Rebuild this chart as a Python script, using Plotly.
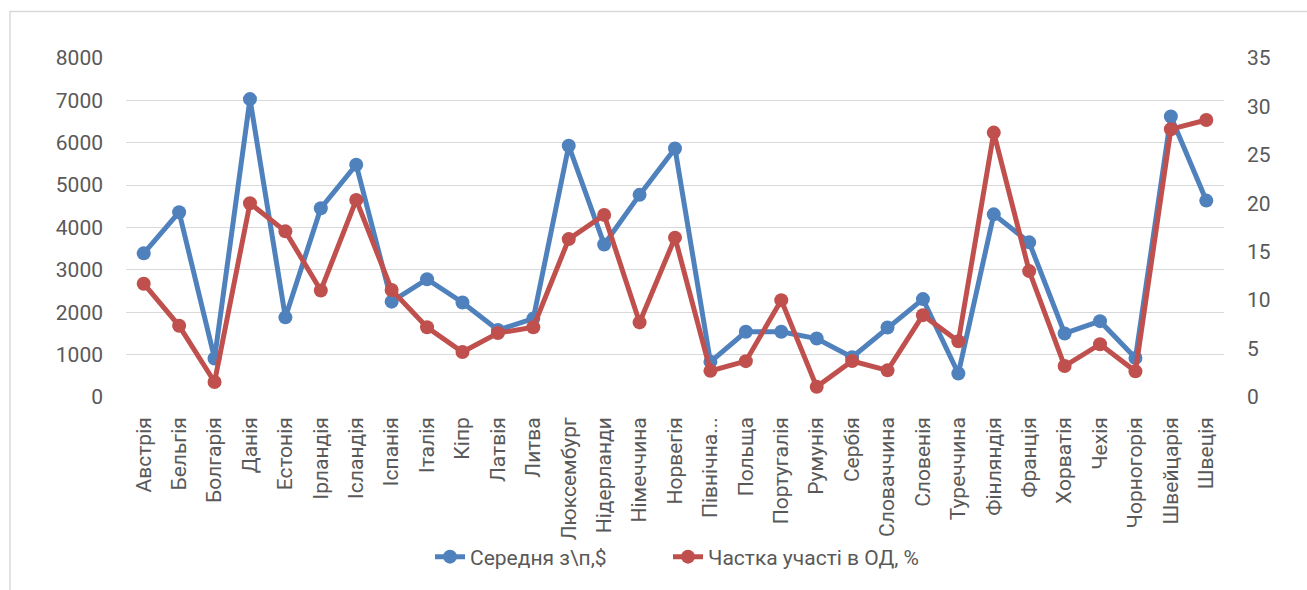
import plotly.graph_objects as go

countries = ["Австрія", "Бельгія", "Болгарія", "Данія", "Естонія", "Ірландія", "Ісландія",
             "Іспанія", "Італія", "Кіпр", "Латвія", "Литва", "Люксембург", "Нідерланди",
             "Німеччина", "Норвегія", "Північна...", "Польща", "Португалія", "Румунія",
             "Сербія", "Словаччина", "Словенія", "Туреччина", "Фінляндія", "Франція",
             "Хорватія", "Чехія", "Чорногорія", "Швейцарія", "Швеція"]
salary = [3390, 4360, 910, 7030, 1880, 4455, 5480, 2250, 2780, 2230, 1580, 1850, 5930, 3600,
          4770, 5865, 830, 1540, 1540, 1380, 940, 1640, 2310, 555, 4310, 3650, 1500, 1790,
          920, 6620, 4635]
share = [11.7, 7.35, 1.55, 20.0, 17.1, 11.0, 20.35, 11.05, 7.2, 4.65, 6.6, 7.2, 16.3, 18.8,
         7.7, 16.45, 2.7, 3.7, 10.0, 1.05, 3.72, 2.75, 8.45, 5.75, 27.3, 13.0, 3.2, 5.45,
         2.65, 27.65, 28.6]
name_salary = "Середня з\\п,$"
name_share = "Частка участі в ОД, %"
left_ticks = [0, 1000, 2000, 3000, 4000, 5000, 6000, 7000, 8000]
right_ticks = [0, 5, 10, 15, 20, 25, 30, 35]

BLUE = "#4f81bd"
RED = "#c0504d"
TXT = "#595959"
FONT = "Roboto"

fig = go.Figure()
fig.add_trace(go.Scatter(x=countries, y=salary, name=name_salary, mode="lines+markers",
                         line=dict(color=BLUE, width=5), marker=dict(color=BLUE, size=14),
                         yaxis="y", legend="legend"))
fig.add_trace(go.Scatter(x=countries, y=share, name=name_share, mode="lines+markers",
                         line=dict(color=RED, width=5), marker=dict(color=RED, size=14),
                         yaxis="y2", legend="legend2"))

W, H = 1307, 590
L, R, T, B = 126, 83, 58, 193
pw, ph = W - L - R, H - T - B

def px2x(p):
    return (p - L) / pw

def py2y(p):
    return (H - B - p) / ph

legend_common = dict(orientation="h", xanchor="left", y=py2y(557), yanchor="middle",
                     font=dict(size=21, color=TXT, family=FONT), bgcolor="rgba(0,0,0,0)")

fig.update_layout(
    width=W, height=H,
    margin=dict(l=L, r=R, t=T, b=B),
    paper_bgcolor="white", plot_bgcolor="white",
    font=dict(family=FONT, color=TXT, size=20),
    showlegend=True,
    legend=dict(x=px2x(430), **legend_common),
    legend2=dict(x=px2x(668), **legend_common),
    xaxis=dict(type="category", tickangle=-90, showgrid=False, showline=False,
               ticks="", tickfont=dict(size=21, color=TXT, family=FONT),
               range=[-0.5, len(countries) - 0.5], ticklabelstandoff=15),
    yaxis=dict(range=[0, 8000], tickvals=left_ticks, showgrid=True, gridcolor="#d9d9d9",
               gridwidth=1.3, zeroline=False, showline=False, ticks="",
               tickfont=dict(size=21, color=TXT, family=FONT), ticklabelstandoff=22),
    yaxis2=dict(range=[0, 35], tickvals=right_ticks, overlaying="y", side="right",
                showgrid=False, zeroline=False, showline=False, ticks="",
                tickfont=dict(size=21, color=TXT, family=FONT), ticklabelstandoff=22),
    shapes=[dict(type="rect", xref="paper", yref="paper",
                 x0=px2x(10), x1=px2x(1330), y0=py2y(610), y1=py2y(11.5),
                 line=dict(color="#d9d9d9", width=1.5), fillcolor="rgba(0,0,0,0)",
                 layer="below")],
)

fig.write_html("out.html")
